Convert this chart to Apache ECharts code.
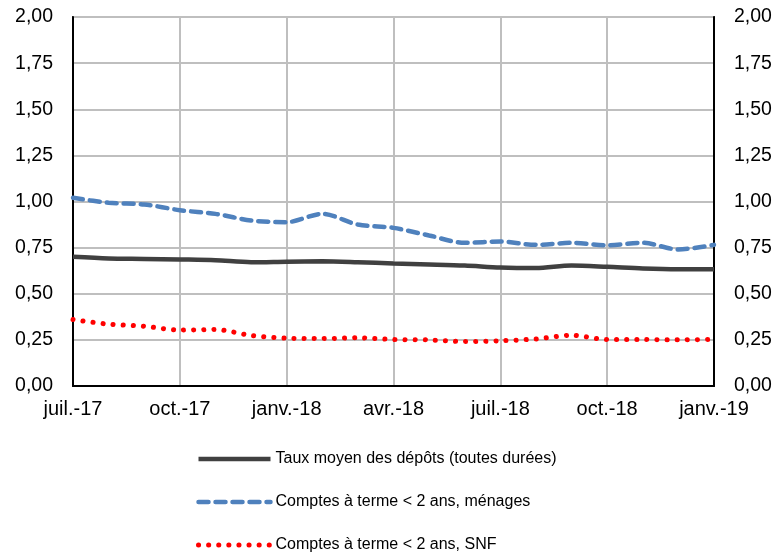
<!DOCTYPE html>
<html>
<head>
<meta charset="utf-8" />
<title>taux</title>
<script src="https://cdn.jsdelivr.net/npm/echarts@6/dist/echarts.min.js"></script>
<style>
  body { margin: 0; background: #fff; }
  #main { width: 776px; height: 556px; }
</style>
</head>
<body>
<div id="main"></div>
<script type="text/javascript">
  // mois, juil.-17 -> janv.-19
  var months = ['juil.-17', 'août-17', 'sept.-17', 'oct.-17', 'nov.-17', 'déc.-17',
                'janv.-18', 'févr.-18', 'mars-18', 'avr.-18', 'mai-18', 'juin-18',
                'juil.-18', 'août-18', 'sept.-18', 'oct.-18', 'nov.-18', 'déc.-18', 'janv.-19'];

  var tauxMoyen = [0.70, 0.691, 0.689, 0.686, 0.682, 0.671, 0.674, 0.676, 0.671, 0.664,
                   0.659, 0.653, 0.642, 0.639, 0.653, 0.646, 0.637, 0.633, 0.633];
  var ctMenages = [1.02, 0.993, 0.984, 0.953, 0.933, 0.897, 0.888, 0.933, 0.875, 0.857,
                   0.816, 0.776, 0.783, 0.765, 0.776, 0.763, 0.776, 0.74, 0.765];
  var ctSnf = [0.36, 0.335, 0.324, 0.303, 0.306, 0.274, 0.259, 0.257, 0.261, 0.252,
               0.25, 0.241, 0.245, 0.255, 0.275, 0.252, 0.252, 0.25, 0.253];

  var names = ['Taux moyen des dépôts (toutes durées)',
               'Comptes à terme < 2 ans, ménages',
               'Comptes à terme < 2 ans, SNF'];

  var fmt = function (v) { return v.toFixed(2).replace('.', ','); };
  var font = 'Liberation Sans, Arial, sans-serif';

  var styles = [
    { color: '#404040', width: 4.5, type: 'solid' },
    { color: '#4f81bd', width: 4.5, type: [10, 7], cap: 'round' },
    { color: '#ff0000', width: 5, type: [0.1, 10], cap: 'round' }
  ];

  var yAxisBase = function (pos) {
    return {
      type: 'value',
      position: pos,
      min: 0, max: 2, interval: 0.25,
      axisLine: { show: true, lineStyle: { color: '#000', width: 2 } },
      axisTick: { show: false },
      axisLabel: { color: '#000', fontSize: 19.5, fontFamily: font, margin: 20, formatter: fmt },
      splitLine: { show: pos === 'left', lineStyle: { color: '#bfbfbf', width: 2 } }
    };
  };

  var myChart = echarts.init(document.getElementById('main'));
  myChart.setOption({
    animation: false,
    grid: { left: 73, right: 62, top: 17, bottom: 170, show: true, borderColor: '#000', borderWidth: 1.5 },
    legend: {
      orient: 'vertical',
      left: 191, top: 446, height: 200,
      itemWidth: 72, itemHeight: 14, itemGap: 27,
      itemStyle: { opacity: 0 },
      textStyle: { color: '#000', fontSize: 16, fontFamily: font },
      data: names.map(function (n, i) {
        return { name: n, lineStyle: styles[i] };
      })
    },
    xAxis: {
      type: 'category',
      data: months,
      boundaryGap: false,
      axisLine: { lineStyle: { color: '#000', width: 2 } },
      axisTick: { show: false },
      axisLabel: { color: '#000', fontSize: 20, fontFamily: font, margin: 13, interval: 2 },
      splitLine: { show: true, interval: 2, lineStyle: { color: '#bfbfbf', width: 2 } }
    },
    yAxis: [yAxisBase('left'), yAxisBase('right')],
    series: [
      { name: names[0], type: 'line', data: tauxMoyen, smooth: 0.3, symbol: 'none', color: styles[0].color, lineStyle: styles[0] },
      { name: names[1], type: 'line', data: ctMenages, smooth: 0.3, symbol: 'none', color: styles[1].color, lineStyle: styles[1] },
      { name: names[2], type: 'line', data: ctSnf, smooth: 0.3, symbol: 'none', color: styles[2].color, lineStyle: styles[2] }
    ]
  });
</script>
</body>
</html>
